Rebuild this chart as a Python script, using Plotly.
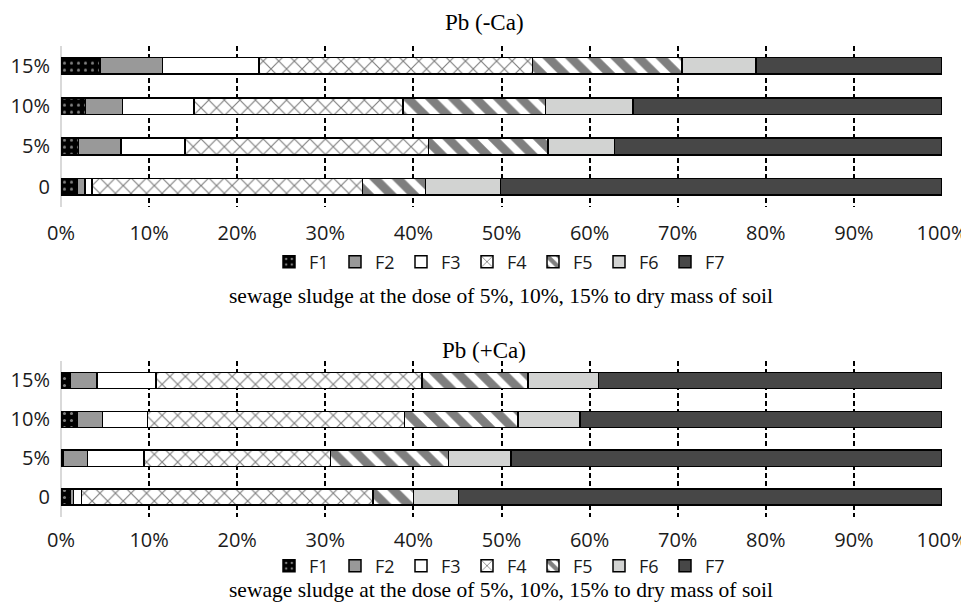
import plotly.graph_objects as go

categories = ["0", "5%", "10%", "15%"]
fractions = ["F1", "F2", "F3", "F4", "F5", "F6", "F7"]

# Pb (-Ca): values per fraction (%), order of categories: 0, 5%, 10%, 15%
top_F1 = [1.9, 2.0, 2.8, 4.4]
top_F2 = [0.8, 4.8, 4.2, 7.1]
top_F3 = [0.8, 7.3, 8.1, 11.0]
top_F4 = [30.7, 27.6, 23.7, 31.0]
top_F5 = [7.2, 13.6, 16.2, 17.0]
top_F6 = [8.5, 7.5, 9.9, 8.4]
top_F7 = [50.1, 37.2, 35.1, 21.1]

# Pb (+Ca)
bot_F1 = [1.1, 0.2, 1.9, 1.1]
bot_F2 = [0.3, 2.8, 2.8, 3.0]
bot_F3 = [0.9, 6.4, 5.1, 6.7]
bot_F4 = [33.1, 21.2, 29.2, 30.2]
bot_F5 = [4.6, 13.4, 12.9, 12.0]
bot_F6 = [5.1, 7.1, 7.0, 8.0]
bot_F7 = [54.9, 48.9, 41.1, 39.0]

x_ticks = list(range(0, 101, 10))
x_tick_labels = [f"{v}%" for v in x_ticks]

titles = ["Pb (-Ca)", "Pb (+Ca)"]
x_label = "sewage sludge at the dose of 5%, 10%, 15% to dry mass of soil"

styles = {
    "F1": dict(color="black", pattern=dict(shape=".", bgcolor="black", fgcolor="white", size=7, solidity=0.15)),
    "F2": dict(color="#999999", pattern=None),
    "F3": dict(color="white", pattern=None),
    "F4": dict(color="white", pattern=dict(shape="x", bgcolor="white", fgcolor="black", size=11, solidity=0.2)),
    "F5": dict(color="white", pattern=dict(shape="\\", bgcolor="white", fgcolor="black", size=16, solidity=0.55)),
    "F6": dict(color="#d2d3d2", pattern=None),
    "F7": dict(color="#474747", pattern=None),
}

top_vals = [top_F1, top_F2, top_F3, top_F4, top_F5, top_F6, top_F7]
bot_vals = [bot_F1, bot_F2, bot_F3, bot_F4, bot_F5, bot_F6, bot_F7]

# page body has an 8px margin; lay out the figure so it fills the 969x603 window
OFF = 8
W, H = 969 - OFF, 603 - OFF
ML, MR = 61 - OFF, 969 - 942


def py(y_ref):
    return 1 - (y_ref - OFF) / H


def px(x_ref):
    return (x_ref - OFF - ML) / (W - ML - MR)


fig = go.Figure()

for panel, vals in enumerate([top_vals, bot_vals]):
    xa = "x" if panel == 0 else "x2"
    ya = "y" if panel == 0 else "y2"
    lg = "legend" if panel == 0 else "legend2"
    for name, v in zip(fractions, vals):
        st = styles[name]
        marker = dict(color=st["color"], line=dict(color="black", width=1.5))
        if st["pattern"] is not None:
            marker["pattern"] = st["pattern"]
        fig.add_trace(go.Bar(
            x=v, y=categories, orientation="h", name=name,
            marker=marker, xaxis=xa, yaxis=ya, legend=lg,
            hoverinfo="x+y+name",
        ))

tick_font = dict(family="Open Sans", size=20, color="#1a1a1a")
legend_font = dict(family="Open Sans", size=18, color="#1a1a1a")
serif = "Liberation Serif"

axis_x = dict(
    range=[0, 100], tickvals=x_ticks, ticktext=x_tick_labels,
    showgrid=True, gridcolor="black", gridwidth=1.8, griddash="5px,3px",
    zeroline=True, zerolinecolor="#d9d9d9", zerolinewidth=2,
    showline=False, ticks="outside", tickcolor="rgba(0,0,0,0)",
    tickfont=tick_font, fixedrange=True,
)
axis_y = dict(
    type="category", categoryorder="array", categoryarray=categories,
    showgrid=False, zeroline=False, showline=False,
    ticks="outside", ticklen=6, tickcolor="rgba(0,0,0,0)",
    tickfont=tick_font, fixedrange=True,
)

legend_common = dict(orientation="h", xanchor="center", yanchor="middle",
                     font=legend_font, itemwidth=30, entrywidth=21,
                     traceorder="normal", bgcolor="rgba(0,0,0,0)")

fig.update_layout(
    width=W, height=H,
    margin=dict(l=ML, r=MR, t=0, b=0),
    paper_bgcolor="white", plot_bgcolor="white",
    barmode="stack", bargap=0.585,
    xaxis=dict(axis_x, domain=[0, 1], anchor="y", ticklen=8),
    yaxis=dict(axis_y, domain=[py(207), py(45.6)], anchor="x"),
    xaxis2=dict(axis_x, domain=[0, 1], anchor="y2", ticklen=5),
    yaxis2=dict(axis_y, domain=[py(516.5), py(361)], anchor="x2"),
    legend=dict(legend_common, x=px(500), y=py(262)),
    legend2=dict(legend_common, x=px(500), y=py(566)),
    showlegend=True,
    annotations=[
        dict(text=titles[0], x=px(484), y=py(22), xref="paper", yref="paper",
             showarrow=False, font=dict(family=serif, size=23, color="black"), yanchor="middle"),
        dict(text=titles[1], x=px(484), y=py(351), xref="paper", yref="paper",
             showarrow=False, font=dict(family=serif, size=23, color="black"), yanchor="middle"),
        dict(text=x_label, x=px(501), y=py(296), xref="paper", yref="paper",
             showarrow=False, font=dict(family=serif, size=21.5, color="black"), yanchor="middle"),
        dict(text=x_label, x=px(501), y=0, xref="paper", yref="paper",
             showarrow=False, font=dict(family=serif, size=21.5, color="black"), yanchor="bottom",
             borderpad=0),
    ],
)

fig.write_html("out.html")
